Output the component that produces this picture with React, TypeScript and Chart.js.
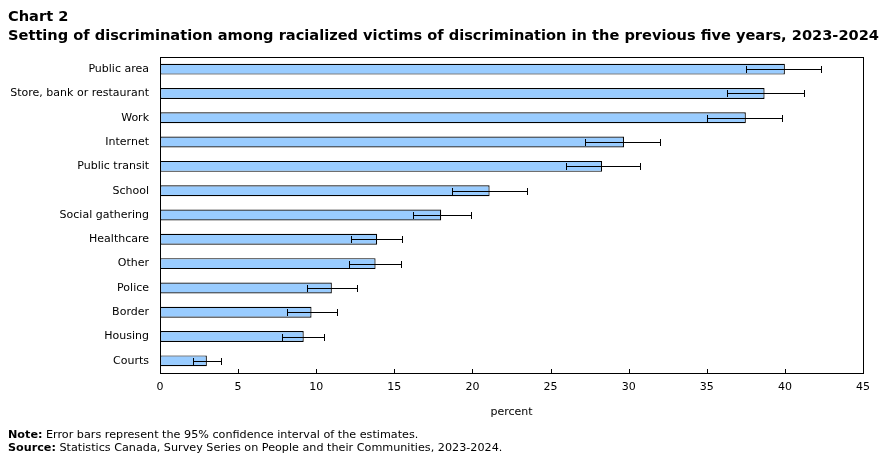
import React, { useEffect, useRef } from "react";
import { Chart, registerables } from "chart.js";

Chart.register(...registerables);

const categories = [
  "Public area",
  "Store, bank or restaurant",
  "Work",
  "Internet",
  "Public transit",
  "School",
  "Social gathering",
  "Healthcare",
  "Other",
  "Police",
  "Border",
  "Housing",
  "Courts",
];

const estimates = [40.0, 38.7, 37.5, 29.7, 28.3, 21.1, 18.0, 13.9, 13.8, 11.0, 9.7, 9.2, 3.0];
const lowerCI = [37.5, 36.3, 35.0, 27.2, 26.0, 18.7, 16.2, 12.2, 12.1, 9.4, 8.1, 7.8, 2.1];
const upperCI = [42.3, 41.2, 39.8, 32.0, 30.7, 23.5, 19.9, 15.5, 15.4, 12.6, 11.3, 10.5, 3.9];

const xTicks = [0, 5, 10, 15, 20, 25, 30, 35, 40, 45];

const FONT = "'DejaVu Sans', Verdana, sans-serif";

// Frame around the plot area plus short tick marks pointing inward from the x axis
const framePlugin = {
  id: "frame",
  afterDatasetsDraw(chart: any) {
    const { ctx, chartArea, scales } = chart;
    const x = scales.x;
    ctx.save();
    ctx.strokeStyle = "#000";
    ctx.lineWidth = 1;
    ctx.strokeRect(
      Math.round(chartArea.left) + 0.5,
      Math.round(chartArea.top) + 0.5,
      Math.round(chartArea.right - chartArea.left),
      Math.round(chartArea.bottom - chartArea.top)
    );
    ctx.beginPath();
    for (const v of xTicks) {
      const px = Math.round(x.getPixelForValue(v)) + 0.5;
      ctx.moveTo(px, chartArea.bottom);
      ctx.lineTo(px, chartArea.bottom - 4);
    }
    ctx.stroke();
    ctx.restore();
  },
};

// 95% confidence interval whiskers
const errorBarPlugin = {
  id: "errorBars",
  afterDatasetsDraw(chart: any) {
    const { ctx, scales } = chart;
    const x = scales.x;
    const y = scales.y;
    ctx.save();
    ctx.strokeStyle = "#000";
    ctx.lineWidth = 1;
    ctx.beginPath();
    categories.forEach((_, i) => {
      const cy = Math.round(y.getPixelForValue(i)) + 0.5;
      const x1 = Math.round(x.getPixelForValue(lowerCI[i])) + 0.5;
      const x2 = Math.round(x.getPixelForValue(upperCI[i])) + 0.5;
      ctx.moveTo(x1, cy);
      ctx.lineTo(x2, cy);
      ctx.moveTo(x1, cy - 3.5);
      ctx.lineTo(x1, cy + 3.5);
      ctx.moveTo(x2, cy - 3.5);
      ctx.lineTo(x2, cy + 3.5);
    });
    ctx.stroke();
    ctx.restore();
  },
};

export default function App() {
  const canvasRef = useRef<HTMLCanvasElement>(null);

  useEffect(() => {
    if (!canvasRef.current) return;
    const chart = new Chart(canvasRef.current, {
      type: "bar",
      data: {
        labels: categories,
        datasets: [
          {
            data: estimates,
            backgroundColor: "#99ccff",
            borderColor: "#000000",
            borderWidth: 1.2,
            borderSkipped: false,
            barPercentage: 0.45,
            categoryPercentage: 1,
          },
        ],
      },
      options: {
        indexAxis: "y",
        animation: false,
        responsive: false,
        maintainAspectRatio: false,
        layout: { padding: { left: 0, top: 57, right: 26, bottom: 0 } },
        plugins: {
          legend: { display: false },
          tooltip: { enabled: false },
        },
        scales: {
          x: {
            min: 0,
            max: 45,
            afterFit(scale: any) {
              scale.height = 81;
            },
            afterBuildTicks(scale: any) {
              scale.ticks = xTicks.map((v) => ({ value: v }));
            },
            grid: { display: false, drawTicks: false },
            border: { display: false },
            ticks: {
              padding: 8,
              color: "#000",
              font: { family: FONT, size: 11 },
            },
            title: {
              display: true,
              text: "percent",
              color: "#000",
              font: { family: FONT, size: 11 },
              padding: { top: 0, bottom: 35 },
            },
          },
          y: {
            afterFit(scale: any) {
              scale.width = 160;
            },
            grid: { display: false, drawTicks: false },
            border: { display: false },
            ticks: {
              padding: 11,
              color: "#000",
              font: { family: FONT, size: 11 },
            },
          },
        },
      },
      plugins: [framePlugin, errorBarPlugin],
    });
    return () => chart.destroy();
  }, []);

  return (
    <div
      style={{
        position: "absolute",
        left: 0,
        top: 0,
        width: 889,
        height: 454,
        background: "#fff",
        fontFamily: FONT,
        color: "#000",
      }}
    >
      <canvas
        ref={canvasRef}
        width={889}
        height={454}
        style={{ position: "absolute", left: 0, top: 0, width: 889, height: 454 }}
      />
      <div
        style={{
          position: "absolute",
          left: 8,
          top: 6,
          fontWeight: "bold",
          fontSize: 14.6,
          lineHeight: "19px",
          whiteSpace: "nowrap",
        }}
      >
        <div>Chart 2</div>
        <div>
          Setting of discrimination among racialized victims of discrimination in the previous five years, 2023-2024
        </div>
      </div>
      <div
        style={{
          position: "absolute",
          left: 8,
          top: 428,
          fontSize: 11.2,
          lineHeight: "13px",
          whiteSpace: "nowrap",
        }}
      >
        <div>
          <b>Note:</b> Error bars represent the 95% confidence interval of the estimates.
        </div>
        <div>
          <b>Source:</b> Statistics Canada, Survey Series on People and their Communities, 2023-2024.
        </div>
      </div>
    </div>
  );
}
